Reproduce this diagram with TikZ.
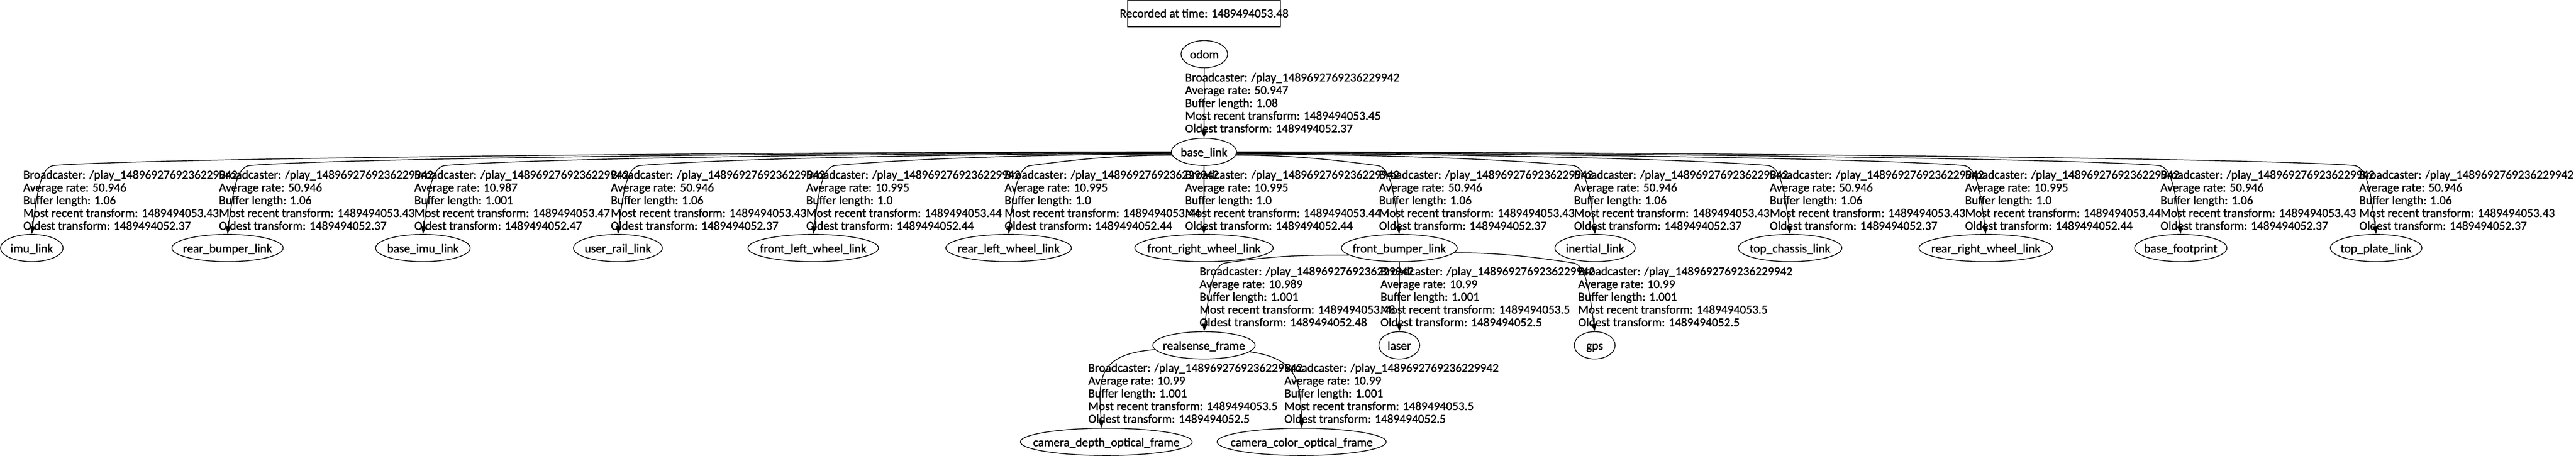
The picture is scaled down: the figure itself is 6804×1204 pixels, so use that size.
\documentclass[tikz,border=0pt]{standalone}
\usepackage{fontspec}
\setmainfont{Carlito}[FakeBold=1.2]
\usetikzlibrary{shapes.geometric,arrows.meta,calc}
\newlength\tfw
\newcommand\nt[1]{\makebox[0pt]{#1}}
\newcommand\tflabel[6]{\node[tflbl] (#1) at (#2) {\vtop{\baselineskip=16.85pt\lineskiplimit=-1000pt\lineskip=0pt\hbox{Broadcaster: /play\_1489692769236229942}\hbox{Average rate: #3}\hbox{Buffer length: #4}\hbox{Most recent transform: #5}\hbox{Oldest transform: #6}}};}
\newcommand\tfleft[4]{\draw[tfedge] (#1) .. controls +(#3,0) and +(#4,-20) .. ($(#2.north)+(60,-181)$) .. controls +(-35,2) and +(15,-119) .. (#2.north);}
\newcommand\tfright[4]{\draw[tfedge] (#1) .. controls +(#3,0) and +(-#4,-20) .. ($(#2.north)+(-60,-181)$) .. controls +(35,2) and +(-15,-119) .. (#2.north);}
\tikzset{
  tfnode/.style={draw, ellipse, line width=1pt, inner sep=0pt, minimum height=36pt, text height=11.7pt, text depth=0pt},
  tflbl/.style={anchor=base west, inner sep=0pt},
  tfedge/.style={line width=1pt, -{Triangle[length=10pt,width=7pt]}},
  recbox/.style={draw, rectangle, line width=1pt, inner sep=0pt, minimum width=201.5pt, minimum height=35pt, text height=10pt, text depth=0pt},
}
\begin{document}
\settowidth\tfw{\normalfont\fontsize{10pt}{12pt}\selectfont Broadcaster: /play\_1489692769236229942}%
\pgfmathsetmacro\fsz{10*283/\tfw}%
\begin{tikzpicture}[x=0.5pt,y=-0.5pt]
\tikzset{every node/.append style={font=\fontsize{\fsz pt}{16.85pt}\selectfont}}
\path[fill=white, use as bounding box] (0,0) rectangle (6804,1204);

% nodes
\node[recbox] (rec) at (3180.5,36) {\nt{Recorded at time: 1489494053.48}};
\node[tfnode, minimum width=61.5pt] (odom) at (3181,143) {\nt{odom}};
\node[tfnode, minimum width=86pt] (baselink) at (3180,401) {\nt{base\_link}};

\node[tfnode, minimum width=82.5pt] (imu) at (84,655) {\nt{imu\_link}};
\node[tfnode, minimum width=147pt] (rearbumper) at (601,655) {\nt{rear\_bumper\_link}};
\node[tfnode, minimum width=125pt] (baseimu) at (1117,655) {\nt{base\_imu\_link}};
\node[tfnode, minimum width=117.5pt] (userrail) at (1632,655) {\nt{user\_rail\_link}};
\node[tfnode, minimum width=172.5pt] (frontleft) at (2148,655) {\nt{front\_left\_wheel\_link}};
\node[tfnode, minimum width=166pt] (rearleft) at (2664,655) {\nt{rear\_left\_wheel\_link}};
\node[tfnode, minimum width=183pt] (frontright) at (3180,655) {\nt{front\_right\_wheel\_link}};
\node[tfnode, minimum width=153pt] (frontbumper) at (3696,655) {\nt{front\_bumper\_link}};
\node[tfnode, minimum width=106pt] (inertial) at (4213,655) {\nt{inertial\_link}};
\node[tfnode, minimum width=137pt] (topchassis) at (4728,655) {\nt{top\_chassis\_link}};
\node[tfnode, minimum width=176.5pt] (rearright) at (5245,655) {\nt{rear\_right\_wheel\_link}};
\node[tfnode, minimum width=122pt] (basefootprint) at (5760,655) {\nt{base\_footprint}};
\node[tfnode, minimum width=121pt] (topplate) at (6276,655) {\nt{top\_plate\_link}};

\node[tfnode, minimum width=135pt] (realsense) at (3180,912) {\nt{realsense\_frame}};
\node[tfnode, minimum width=54pt] (laser) at (3696,912) {\nt{laser}};
\node[tfnode, minimum width=54pt] (gps) at (4212,912) {\nt{gps}};

\node[tfnode, minimum width=227pt] (cdepth) at (2922,1167) {\nt{camera\_depth\_optical\_frame}};
\node[tfnode, minimum width=223.5pt] (ccolor) at (3438,1167) {\nt{camera\_color\_optical\_frame}};

% edges
\draw[tfedge] (odom) -- (baselink);
\tfleft{baselink.180}{imu}{-983}{250}
\tfleft{baselink.181}{rearbumper}{-811}{250}
\tfleft{baselink.182}{baseimu}{-639}{250}
\tfleft{baselink.183}{userrail}{-467}{250}
\tfleft{baselink.184}{frontleft}{-295}{220}
\tfleft{baselink.186}{rearleft}{-123}{150}
\draw[tfedge] (baselink) -- (frontright);
\tfright{baselink.354}{frontbumper}{123}{150}
\tfright{baselink.356}{inertial}{296}{220}
\tfright{baselink.357}{topchassis}{467}{250}
\tfright{baselink.358}{rearright}{640}{250}
\tfright{baselink.359}{basefootprint}{811}{250}
\tfright{baselink.0}{topplate}{983}{250}
\tfleft{frontbumper.188}{realsense}{-108}{130}
\draw[tfedge] (frontbumper) -- (laser);
\tfright{frontbumper.355}{gps}{104}{130}
\draw[tfedge] (realsense.185) .. controls +(-151,12) and +(-10,-132) .. ([xshift=-6pt]cdepth.north);
\draw[tfedge] (realsense.352) .. controls +(120,17) and +(-2,-132) .. (ccolor.north);

% edge labels
\tflabel{l0}{3130,215}{50.947}{1.08}{1489494053.45}{1489494052.37}
\tflabel{l1}{61,472}{50.946}{1.06}{1489494053.43}{1489494052.37}
\tflabel{l2}{578,472}{50.946}{1.06}{1489494053.43}{1489494052.37}
\tflabel{l3}{1094,472}{10.987}{1.001}{1489494053.47}{1489494052.47}
\tflabel{l4}{1613,472}{50.946}{1.06}{1489494053.43}{1489494052.37}
\tflabel{l5}{2129,472}{10.995}{1.0}{1489494053.44}{1489494052.44}
\tflabel{l6}{2653,472}{10.995}{1.0}{1489494053.44}{1489494052.44}
\tflabel{l7}{3130,472}{10.995}{1.0}{1489494053.44}{1489494052.44}
\tflabel{l8}{3642,472}{50.946}{1.06}{1489494053.43}{1489494052.37}
\tflabel{l9}{4157,472}{50.946}{1.06}{1489494053.43}{1489494052.37}
\tflabel{l10}{4674,472}{50.946}{1.06}{1489494053.43}{1489494052.37}
\tflabel{l11}{5190,472}{10.995}{1.0}{1489494053.44}{1489494052.44}
\tflabel{l12}{5706,472}{50.946}{1.06}{1489494053.43}{1489494052.37}
\tflabel{l13}{6231,472}{50.946}{1.06}{1489494053.43}{1489494052.37}
\tflabel{l14}{3168,727}{10.989}{1.001}{1489494053.48}{1489494052.48}
\tflabel{l15}{3646,727}{10.99}{1.001}{1489494053.5}{1489494052.5}
\tflabel{l16}{4168,727}{10.99}{1.001}{1489494053.5}{1489494052.5}
\tflabel{l17}{2874,982}{10.99}{1.001}{1489494053.5}{1489494052.5}
\tflabel{l18}{3392,982}{10.99}{1.001}{1489494053.5}{1489494052.5}
\end{tikzpicture}
\end{document}
